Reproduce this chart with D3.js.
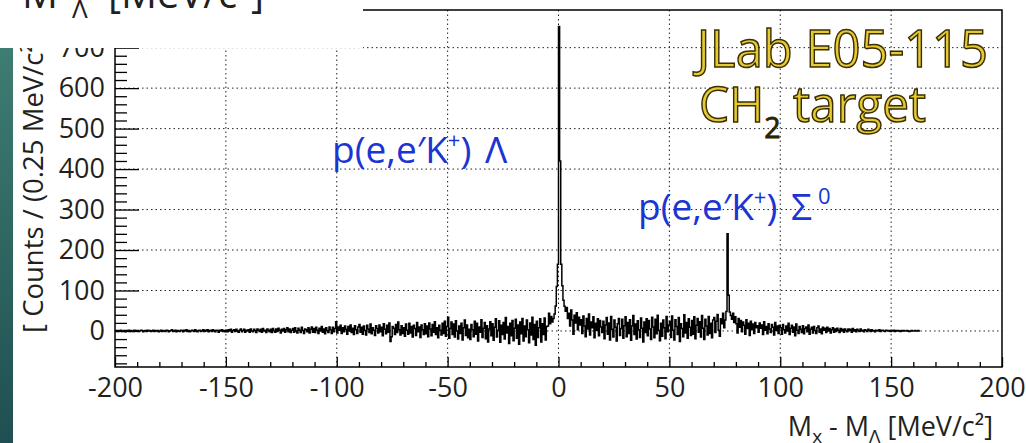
<!DOCTYPE html>
<html>
<head>
<meta charset="utf-8">
<script src="https://cdn.jsdelivr.net/npm/d3@7"></script>
<style>
  html, body { margin: 0; padding: 0; background: #fff; }
  svg { display: block; font-family: "Open Sans", "DejaVu Sans", sans-serif; }
</style>
</head>
<body>
<svg id="chart" width="1026" height="443"></svg>
<script>
// Missing-mass spectrum, counts per bin (bin width 0.5 MeV), one array per 50 MeV span
const binWidth = 0.5;

const countsA = [ // -200 .. -150
  0,1,-1,1,0,2,-1,0,1,-2,1,0,2,-1,1,0,-1,2,0,1,
  1,-1,0,2,1,-2,0,1,-1,2,0,1,-1,0,2,-1,1,0,1,-2,
  0,2,-1,1,0,-1,2,1,-2,0,1,3,-1,0,2,-2,1,0,-1,2,
  1,-2,2,0,3,-1,1,-2,0,2,1,-1,3,0,-2,1,2,-1,0,3,
  -1,2,0,3,-2,1,2,-1,3,0,-2,2,1,-3,2,0,3,-1,1,-2
];
const countsB = [ // -150 .. -100
  2,-2,3,0,4,-3,1,3,-1,4,0,-3,2,5,-2,1,4,-3,2,0,
  3,-3,5,0,-2,4,1,-4,5,2,-1,4,-3,6,0,2,-4,5,1,-2,
  4,-4,6,1,-3,5,-1,7,2,-5,4,0,6,-3,3,8,-2,5,-4,2,
  6,-3,8,0,-5,7,2,-4,9,1,-6,5,3,-2,8,-5,4,10,-3,6,
  -4,9,2,-6,7,0,11,-3,5,-7,8,1,-4,10,3,-6,9,-2,6,23
];
const countsC = [ // -100 .. -50
  -5,10,2,14,-6,8,-2,12,4,-8,11,0,15,-4,7,-9,13,3,-6,10,
  16,-3,9,-8,12,1,-10,14,5,-4,17,-7,8,2,-11,13,6,-5,15,-2,
  9,-12,18,4,-7,14,-3,20,-26,-14,11,7,-9,16,-4,22,3,-10,13,-6,
  8,-13,17,2,-8,19,-5,11,-15,14,6,-11,21,-2,10,-16,15,3,-9,18,
  -7,12,-14,20,5,-12,16,-3,23,-9,8,-17,14,2,-10,19,-6,24,-13,11
];
const countsD = [ // -50 .. 0 (leading edge of the Lambda peak)
  34,-18,6,22,-9,17,-15,25,0,-20,12,-6,19,-22,8,27,-11,15,-17,4,
  -21,16,3,-14,24,-8,19,-25,10,-3,28,-16,7,21,-19,13,-27,5,23,-12,
  18,-23,9,30,-15,2,25,-28,14,-9,21,-20,33,-5,11,-31,19,-12,26,-24,
  7,29,-18,15,-33,22,-7,31,-25,12,-14,27,3,-29,20,-10,34,-21,16,-35,
  24,-16,8,30,-27,18,-9,32,-22,11,12,44,18,36,22,31,42,62,110,165
];
const countsE = [ // 0 .. 50 (Lambda peak and quasi-free tail)
  752,420,165,112,76,61,49,58,31,44,12,52,27,-8,39,20,45,3,34,15,
  28,-6,37,12,-14,31,5,42,-10,22,8,35,-17,19,2,30,-12,26,10,-4,
  24,-19,15,33,-8,20,-22,36,4,-15,27,9,-25,18,31,-11,6,29,-18,13,
  35,-14,21,-6,28,-23,12,38,-9,17,-20,25,3,-16,32,7,-27,22,-4,30,
  -12,26,5,-21,34,10,-17,29,-7,39,1,-24,19,-13,27,8,-19,36,-2,15
];
const countsF = [ // 50 .. 100 (Sigma0 peak)
  24,-16,37,2,-22,28,11,-9,33,-26,18,6,-14,40,-5,21,-18,30,9,-11,
  26,-8,35,-19,14,31,-3,23,-15,38,7,-21,29,12,-10,36,-6,19,-17,27,
  33,-4,24,41,2,-13,30,18,44,8,27,48,240,88,47,38,29,44,21,35,
  18,-5,31,9,26,-2,22,14,-8,28,6,19,-11,24,3,17,-6,21,8,13,
  -3,20,7,15,-9,23,2,11,-7,18,5,-4,16,9,-10,21,1,12,-6,14
];
const countsG = [ // 100 .. 150
  8,-8,16,3,-5,12,0,19,-9,7,14,-3,10,-12,17,2,-6,11,4,-4,
  13,-7,6,10,-2,15,-8,4,9,-5,11,1,-6,8,12,-3,5,-7,9,2,
  7,-4,9,0,6,-5,3,8,-3,5,-1,7,2,-4,6,0,4,-3,5,1,
  -2,5,1,4,-3,6,0,3,-2,4,1,-1,5,0,2,-2,3,1,-1,4,
  2,-1,3,0,1,-2,2,1,0,3,-1,1,2,0,-1,2,1,0,1,-1
];
const countsH = [ // 150 .. 163
  1,0,2,-1,1,0,1,0,-1,1,0,1,0,0,1,0,-1,0,1,0,0,1,0,0,1,0
];

const segmentStarts = [-200, -150, -100, -50, 0, 50, 100, 150];
const segmentCounts = [countsA, countsB, countsC, countsD, countsE, countsF, countsG, countsH];

const xTickValues = [-200, -150, -100, -50, 0, 50, 100, 150, 200];
const yTickValues = [0, 100, 200, 300, 400, 500, 600, 700];
const xDomain = [-200, 200];
const yDomain = [-89, 793];

// ---------------------------------------------------------------
const svg = d3.select("#chart");
const W = 1026, H = 443;
const plot = { left: 115, right: 1002, top: 10, bottom: 367 };

const x = d3.scaleLinear().domain(xDomain).range([plot.left, plot.right]);
const y = d3.scaleLinear().domain(yDomain).range([plot.bottom, plot.top]);

// histogram points (lower bin edge, count), drawn as steps
const points = [];
segmentCounts.forEach((arr, s) => {
  arr.forEach((c, i) => points.push([segmentStarts[s] + i * binWidth, c]));
});
const lastSeg = segmentCounts[segmentCounts.length - 1];
points.push([segmentStarts[segmentStarts.length - 1] + lastSeg.length * binWidth,
             lastSeg[lastSeg.length - 1]]);

const defs = svg.append("defs");
defs.append("clipPath").attr("id", "plotClip")
  .append("rect")
  .attr("x", plot.left).attr("y", plot.top)
  .attr("width", plot.right - plot.left).attr("height", plot.bottom - plot.top);

// dotted grid
const gridColor = "#222";
svg.append("g").selectAll("line")
  .data(xTickValues.filter(d => d > xDomain[0] && d < xDomain[1]))
  .join("line")
  .attr("x1", d => x(d)).attr("x2", d => x(d))
  .attr("y1", plot.top).attr("y2", plot.bottom)
  .attr("stroke", gridColor).attr("stroke-width", 1)
  .attr("stroke-dasharray", "1.5,3");
svg.append("g").selectAll("line")
  .data(yTickValues)
  .join("line")
  .attr("x1", plot.left).attr("x2", plot.right)
  .attr("y1", d => y(d)).attr("y2", d => y(d))
  .attr("stroke", gridColor).attr("stroke-width", 1)
  .attr("stroke-dasharray", "1.5,3");

// spectrum
const line = d3.line()
  .x(d => x(d[0]))
  .y(d => y(d[1]))
  .curve(d3.curveStepAfter);
svg.append("path")
  .datum(points)
  .attr("clip-path", "url(#plotClip)")
  .attr("d", line)
  .attr("fill", "none")
  .attr("stroke", "#000")
  .attr("stroke-width", 1.5);

// axes with inward ticks
const tickFont = 27;
const xMinor = d3.range(-200, 201, 10).filter(v => v % 50 !== 0);
const yMinor = d3.range(-80, 781, 20).filter(v => v % 100 !== 0);

const gx = svg.append("g").attr("transform", `translate(0,${plot.bottom})`)
  .call(d3.axisBottom(x).tickValues(xTickValues).tickSize(-10).tickPadding(11)
        .tickFormat(d => String(d)));
const gxMinor = svg.append("g").attr("transform", `translate(0,${plot.bottom})`)
  .call(d3.axisBottom(x).tickValues(xMinor).tickSize(-5).tickFormat(""));
const gy = svg.append("g").attr("transform", `translate(${plot.left},0)`)
  .call(d3.axisLeft(y).tickValues(yTickValues).tickSize(-24).tickPadding(10)
        .tickFormat(d => String(d)));
const gyMinor = svg.append("g").attr("transform", `translate(${plot.left},0)`)
  .call(d3.axisLeft(y).tickValues(yMinor).tickSize(-12).tickFormat(""));

[gx, gxMinor, gy, gyMinor].forEach(g => {
  g.select(".domain").remove();
  g.selectAll(".tick line").attr("stroke", "#000").attr("stroke-width", 1.3);
  g.selectAll("text")
    .attr("font-size", tickFont)
    .attr("font-family", "'Open Sans', sans-serif")
    .attr("fill", "#231f20");
});

// frame
svg.append("rect")
  .attr("x", plot.left).attr("y", plot.top)
  .attr("width", plot.right - plot.left).attr("height", plot.bottom - plot.top)
  .attr("fill", "none").attr("stroke", "#000").attr("stroke-width", 1.5);

// x axis title: M_x - M_Λ [MeV/c²]
const xt = svg.append("text")
  .attr("x", 993).attr("y", 436)
  .attr("text-anchor", "end")
  .attr("font-size", 27).attr("fill", "#231f20");
xt.append("tspan").text("M");
xt.append("tspan").attr("font-size", 19).attr("dy", 7).text("x");
xt.append("tspan").attr("dy", -7).text(" - M");
xt.append("tspan").attr("font-size", 19).attr("dy", 7).text("Λ");
xt.append("tspan").attr("dy", -7).text(" [MeV/c²]");

// y axis title
svg.append("text")
  .attr("transform", "translate(43,333) rotate(-90)")
  .attr("text-anchor", "start")
  .attr("font-size", 27.5).attr("fill", "#231f20")
  .text("[ Counts / (0.25 MeV/c²) ]");

// reaction labels
const blue = "#1b34d2";
function reactionLabel(x0, yb, hyperon, sup) {
  const t = svg.append("text").attr("x", x0).attr("y", yb)
    .attr("font-size", 37).attr("fill", blue);
  t.append("tspan").text("p(e,e′K");
  t.append("tspan").attr("font-size", 22).attr("dy", -15).text("+");
  t.append("tspan").attr("dy", 15).text(")");
  t.append("tspan").attr("x", x0 + 153).text(hyperon);
  if (sup) t.append("tspan").attr("font-size", 22).attr("dy", -16).attr("dx", 6).text(sup);
}
reactionLabel(332, 163, "Λ", null);
reactionLabel(638, 220, "Σ", "0");

// experiment tag
const gold = "#e6ca34", goldEdge = "#3a2e00";
svg.append("text")
  .attr("x", 697).attr("y", 67)
  .attr("font-size", 52)
  .attr("textLength", 291).attr("lengthAdjust", "spacingAndGlyphs")
  .attr("fill", gold).attr("stroke", goldEdge).attr("stroke-width", 1.5)
  .text("JLab E05-115");
const tg = svg.append("text")
  .attr("x", 699).attr("y", 122)
  .attr("font-size", 50)
  .attr("textLength", 227).attr("lengthAdjust", "spacingAndGlyphs")
  .attr("fill", gold).attr("stroke", goldEdge).attr("stroke-width", 1.5);
tg.append("tspan").text("CH");
tg.append("tspan").attr("font-size", 30).attr("dy", 16)
  .attr("fill", "#2a2200").attr("stroke", "#2a2200").attr("stroke-width", 0.8).text("2");
tg.append("tspan").attr("dy", -16).text(" target");

// overlapping panel edge at top left
svg.append("rect").attr("x", 0).attr("y", 0).attr("width", 363).attr("height", 48)
  .attr("fill", "#fff");
const topLabel = svg.append("text").attr("y", 8).attr("font-size", 40).attr("fill", "#231f20");
topLabel.append("tspan").attr("x", 22).text("M");
topLabel.append("tspan").attr("x", 72).attr("dy", 10).attr("font-size", 26).text("Λ");
topLabel.append("tspan").attr("x", 108).attr("dy", -10).text("[MeV/c²]");

// slide accent strip at left edge
const grad = defs.append("linearGradient")
  .attr("id", "strip").attr("x1", 0).attr("y1", 0).attr("x2", 0).attr("y2", 1);
grad.append("stop").attr("offset", "0%").attr("stop-color", "#3e7d72");
grad.append("stop").attr("offset", "100%").attr("stop-color", "#1f4f52");
svg.append("rect").attr("x", 0).attr("y", 48).attr("width", 13).attr("height", H - 48)
  .attr("fill", "url(#strip)");
</script>
</body>
</html>
